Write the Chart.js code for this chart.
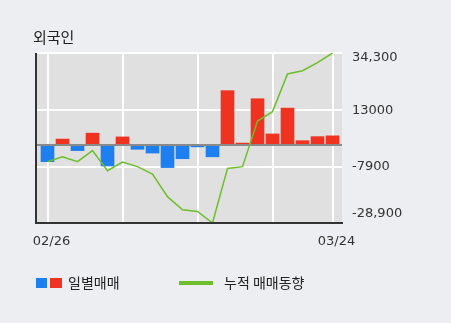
<!DOCTYPE html>
<html>
<head>
<meta charset="utf-8">
<script src="https://cdn.jsdelivr.net/npm/chart.js@4/dist/chart.umd.min.js"></script>
<style>
  html, body { margin: 0; padding: 0; background: #edeef2; }
  #wrap { position: relative; width: 451px; height: 323px; }
  #wrap canvas { position: absolute; left: 0; top: 0; }
  .txt { position: absolute; font-family: "Noto Sans CJK KR", sans-serif; color: #222; white-space: nowrap; }
  #title { left: 33px; top: 28px; font-size: 15px; line-height: 18px; }
  .sw { position: absolute; }
</style>
</head>
<body>
<div id="wrap">
  <canvas id="chart" width="451" height="323"></canvas>
  <div id="title" class="txt">외국인</div>
  <div class="sw" style="left:36px;top:278px;width:11px;height:10px;background:#1e80f0"></div>
  <div class="sw" style="left:50px;top:278px;width:12px;height:10px;background:#f03220"></div>
  <div class="txt" style="left:68px;top:274px;font-size:14px;line-height:16px">일별매매</div>
  <div class="sw" style="left:179px;top:281px;width:34px;height:4px;background:#6cbf2a"></div>
  <div class="txt" style="left:224px;top:274px;font-size:14px;line-height:16px">누적 매매동향</div>
</div>
<script>
const dates = ['02/26', '02/27', '02/28', '03/02', '03/03', '03/04', '03/05', '03/06', '03/09', '03/10',
  '03/11', '03/12', '03/13', '03/16', '03/17', '03/18', '03/19', '03/20', '03/23', '03/24'];
const daily = [-6100, 2300, -2000, 4500, -7700, 3100, -1500, -2900, -8300, -5000,
  -600, -4300, 20300, 800, 17300, 4200, 13800, 1700, 3200, 3500];
const cumulative = [-6100, -4250, -6100, -2000, -9450, -6250, -7950, -10700, -19100, -24000,
  -24600, -28900, -8600, -7950, 9000, 12500, 26500, 27700, 30700, 34300];
const yTicks = [-28900, -7900, 13000, 34300];
const yTickLabels = ['-28,900', '-7900', '13000', '34,300'];
const gridDays = [0, 5, 10, 15, 19];

const BLUE = '#1e80f0';
const RED = '#f03220';
const GREEN = '#6cbf2a';

// plot background, left axis line, horizontal grid, zero line; end labels nudged inward
const decor = {
  id: 'decor',
  beforeDraw(chart) {
    const { ctx, chartArea: a } = chart;
    ctx.save();
    ctx.fillStyle = '#e0e0e0';
    ctx.fillRect(a.left, a.top, a.right - a.left, a.bottom - a.top);
    ctx.strokeStyle = '#333';
    ctx.lineWidth = 2;
    ctx.beginPath();
    ctx.moveTo(Math.round(a.left) - 1, a.top);
    ctx.lineTo(Math.round(a.left) - 1, a.bottom + 1);
    ctx.stroke();
    ctx.restore();

    chart.scales.y.getLabelItems().forEach((item) => {
      if (item._moved) return;
      if (item.label === '34,300') item.options.translation[1] += 5;
      if (item.label === '-28,900') item.options.translation[1] -= 9;
      item._moved = true;
    });
  },
  beforeDatasetsDraw(chart) {
    const { ctx, chartArea: a } = chart;
    const y = chart.scales.y;
    ctx.save();
    ctx.strokeStyle = '#ffffff';
    ctx.lineWidth = 2;
    yTicks.forEach((v) => {
      const py = Math.round(y.getPixelForValue(v));
      ctx.beginPath();
      ctx.moveTo(a.left, py);
      ctx.lineTo(a.right, py);
      ctx.stroke();
    });
    ctx.restore();
  },
  afterDatasetDraw(chart, args) {
    if (args.index !== 0) return;
    const { ctx, chartArea: a } = chart;
    const y0 = Math.round(chart.scales.y.getPixelForValue(0));
    ctx.save();
    ctx.strokeStyle = '#8a8a8a';
    ctx.lineWidth = 2;
    ctx.beginPath();
    ctx.moveTo(a.left, y0);
    ctx.lineTo(a.right, y0);
    ctx.stroke();
    ctx.restore();
  }
};

new Chart(document.getElementById('chart'), {
  type: 'bar',
  data: {
    datasets: [
      {
        type: 'bar',
        data: daily.map((v, i) => ({ x: i, y: v })),
        backgroundColor: daily.map((v) => (v < 0 ? BLUE : RED)),
        barThickness: 13,
        order: 2
      },
      {
        type: 'line',
        data: cumulative.map((v, i) => ({ x: i, y: v })),
        borderColor: GREEN,
        borderWidth: 1.5,
        pointRadius: 0,
        tension: 0,
        order: 1
      }
    ]
  },
  options: {
    responsive: false,
    animation: false,
    layout: { padding: { left: 37, top: 53, right: 0, bottom: 0 } },
    plugins: { legend: { display: false }, tooltip: { enabled: false } },
    scales: {
      x: {
        type: 'linear',
        offset: false,
        min: -0.7,
        max: 19.633,
        afterBuildTicks: (s) => { s.ticks = gridDays.map((v) => ({ value: v })); },
        afterFit: (s) => { s.height = 100; },
        grid: { offset: false, color: '#ffffff', lineWidth: 2, drawTicks: false },
        border: { color: '#333', width: 2, z: 1 },
        ticks: {
          padding: 11,
          labelOffset: 4,
          maxRotation: 0,
          autoSkip: false,
          color: '#333',
          font: { family: 'DejaVu Sans', size: 13 },
          callback: (v) => (v === 0 || v === dates.length - 1 ? dates[v] : ' ')
        }
      },
      y: {
        position: 'right',
        min: -28900,
        max: 34300,
        afterBuildTicks: (s) => { s.ticks = yTicks.map((v) => ({ value: v })); },
        afterFit: (s) => { s.width = 109; },
        grid: { color: '#ffffff', lineWidth: 2, drawTicks: false },
        border: { display: false },
        ticks: {
          padding: 10,
          color: '#333',
          font: { family: 'DejaVu Sans', size: 13 },
          callback: (v) => yTickLabels[yTicks.indexOf(v)]
        }
      }
    }
  },
  plugins: [decor]
});
</script>
</body>
</html>
